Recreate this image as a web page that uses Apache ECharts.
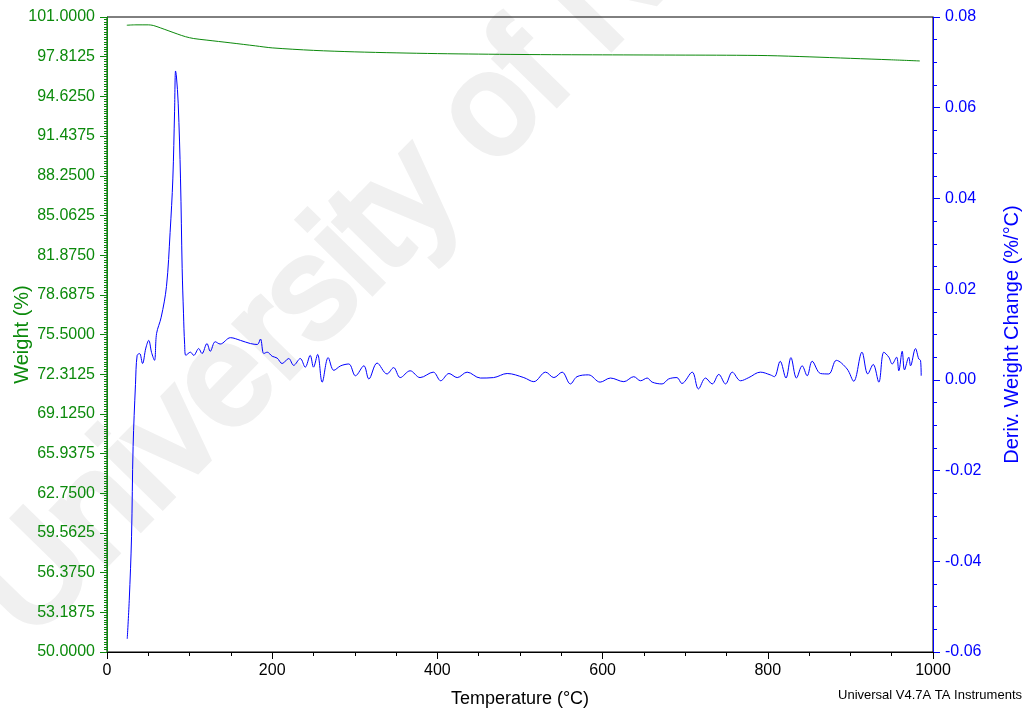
<!DOCTYPE html>
<html>
<head>
<meta charset="utf-8">
<title>TGA</title>
<script src="https://cdn.jsdelivr.net/npm/echarts@6/dist/echarts.min.js"></script>
<style>
  html, body { margin: 0; padding: 0; background: #fff; }
  #chart { width: 1028px; height: 715px; }
</style>
</head>
<body>
<div id="chart"></div>
<script>
// Weight (%) vs temperature (°C)
const weightTemp = [24, 35, 50, 56, 65, 75, 85, 95, 105, 120, 150, 180, 200, 250, 300, 350, 400, 450, 500, 550, 600, 650, 700, 750, 800, 850, 900, 950, 984];
const weightVals = [100.34, 100.37, 100.37, 100.32, 100.12, 99.88, 99.64, 99.42, 99.27, 99.15, 98.92, 98.68, 98.52, 98.32, 98.20, 98.12, 98.06, 98.02, 97.99, 97.97, 97.96, 97.95, 97.94, 97.93, 97.90, 97.80, 97.68, 97.56, 97.47];

// Derivative weight change (%/°C) vs temperature (°C)
const derivTemp = [24.5, 26.9, 29.7, 31.6, 34.5, 36.5, 39.5, 43, 47, 50.5, 54, 57.5, 60, 65.6, 72, 76.4, 79.7, 81.8, 83, 84, 86.2, 89, 91, 92.6, 94, 95.5,
  101, 105, 111, 115, 121, 125, 131, 137, 149.5, 161.6, 173.7, 182, 185.8, 189.8, 194, 200, 206, 212, 220, 226, 234, 240, 246, 250, 255, 260.5, 267.8, 274.6,
  283, 292.7, 300.8, 311, 317, 327, 339, 347, 355, 367, 379, 395, 404, 414, 424, 436, 452, 468, 484.5, 504.6, 516.7, 531, 541, 551, 561, 569, 583,
  597, 609.5, 625.7, 637.7, 646, 654, 660, 672, 680, 690, 696, 708.5, 716, 724.6, 732.7, 740.7, 748.8, 757, 767, 777, 791, 803, 808, 815, 822, 828,
  834.7, 841.6, 847.7, 853.7, 863.8, 873.8, 883, 896, 904, 914, 921, 927.6, 934.4, 940.5, 946.5, 950.6, 955.9, 958.6, 962.7, 965.5, 970.7, 972.8,
  978.8, 982.8, 984.9, 985.7];
const derivVals = [-0.0571, -0.0487, -0.0346, -0.0147, -0.0010, 0.0054, 0.0058, 0.0036, 0.0070, 0.0087, 0.0060, 0.0043, 0.0102, 0.0138, 0.0206, 0.0325, 0.0443, 0.0591, 0.0681, 0.0670, 0.0610, 0.0443, 0.0245, 0.0147, 0.0078, 0.0054,
  0.0061, 0.0054, 0.0069, 0.0058, 0.0080, 0.0063, 0.0084, 0.0079, 0.0093, 0.0087, 0.0080, 0.0078, 0.0090, 0.0058, 0.0061, 0.0052, 0.0048, 0.0036, 0.0047, 0.0032, 0.0047, 0.0028, 0.0054, 0.0028, 0.0056, -0.0005, 0.0049, 0.0021,
  0.0031, 0.0035, 0.0009, 0.0031, 0.0002, 0.0037, 0.0013, 0.0027, 0.0005, 0.0020, 0.0005, 0.0017, -0.0002, 0.0014, 0.0005, 0.0017, 0.0004, 0.0005, 0.0014, 0.0005, -0.0004, 0.0017, 0.0005, 0.0017, -0.0009, 0.0007, 0.0011,
  -0.0005, 0.0004, -0.0004, 0.0007, -0.0002, 0.0004, -0.0005, -0.0009, 0.0002, 0.0005, -0.0008, 0.0017, -0.0020, 0.0004, -0.0009, 0.0012, -0.0009, 0.0017, -0.0002, 0.0005, 0.0017, 0.0011, 0.0007, 0.0041, 0.0004, 0.0049,
  0.0004, 0.0031, 0.0009, 0.0041, 0.0014, 0.0013, 0.0043, 0.0024, -0.0003, 0.0061, 0.0013, 0.0034, -0.0005, 0.0061, 0.0050, 0.0035, 0.0050, 0.0020, 0.0063, 0.0022, 0.0050, 0.0031,
  0.0069, 0.0046, 0.0043, 0.0009];

const GREEN = '#0c8a0c';
const BLUE = '#0000ff';
const FONT = '"Liberation Sans", Arial, sans-serif';

const weightData = weightTemp.map((t, i) => [t, weightVals[i]]);
const derivData = derivTemp.map((t, i) => [t, derivVals[i]]);

const chart = echarts.init(document.getElementById('chart'), null, { renderer: 'canvas' });

chart.setOption({
  animation: false,
  backgroundColor: '#fff',
  textStyle: { fontFamily: FONT },
  grid: {
    left: 107, right: 95, top: 17, bottom: 63,
    show: true, borderColor: '#000', borderWidth: 1,
    containLabel: false, outerBoundsMode: 'none'
  },
  graphic: [
    {
      // faint diagonal background lettering
      type: 'text', z: -10, silent: true,
      x: 1, y: 615, rotation: 45.6 * Math.PI / 180,
      style: {
        text: 'University of N', font: '142px ' + FONT,
        fill: '#f0f0f0', stroke: '#f0f0f0', lineWidth: 7, lineJoin: 'round',
        textAlign: 'left', textVerticalAlign: 'middle'
      }
    },
    {
      type: 'text', right: 6, top: 689,
      style: { text: 'Universal V4.7A TA Instruments', font: '13px ' + FONT, fill: '#000' }
    }
  ],
  xAxis: {
    type: 'value', min: 0, max: 1000, interval: 200,
    name: 'Temperature (°C)', nameLocation: 'middle', nameGap: 38, nameMoveOverlap: false,
    nameTextStyle: { color: '#000', fontSize: 18, fontFamily: FONT },
    axisLine: { onZero: false, lineStyle: { color: '#000', width: 1 } },
    axisTick: { length: 7, lineStyle: { color: '#000' } },
    minorTick: { show: true, splitNumber: 4, length: 4, lineStyle: { color: '#000' } },
    axisLabel: { color: '#000', fontSize: 16, margin: 11, fontFamily: FONT, formatter: v => String(v) },
    splitLine: { show: false }
  },
  yAxis: [
    {
      type: 'value', position: 'left', min: 50, max: 101, interval: 3.1875,
      name: 'Weight (%)', nameLocation: 'middle', nameGap: 75, nameRotate: 90, nameMoveOverlap: false,
      nameTextStyle: { color: GREEN, fontSize: 20, fontFamily: FONT },
      axisLine: { show: true, onZero: false, lineStyle: { color: GREEN, width: 1 } },
      axisTick: { show: true, length: 7, lineStyle: { color: GREEN } },
      minorTick: { show: true, splitNumber: 16, length: 3, lineStyle: { color: GREEN } },
      axisLabel: { color: GREEN, fontSize: 16, margin: 12, fontFamily: FONT, formatter: v => v.toFixed(4) },
      splitLine: { show: false }
    },
    {
      type: 'value', position: 'right', min: -0.06, max: 0.08, interval: 0.02,
      name: 'Deriv. Weight Change (%/°C)', nameLocation: 'middle', nameGap: 69, nameRotate: 90, nameMoveOverlap: false,
      nameTextStyle: { color: BLUE, fontSize: 20, fontFamily: FONT },
      axisLine: { show: true, onZero: false, lineStyle: { color: BLUE, width: 1 } },
      axisTick: { show: true, length: 7, lineStyle: { color: BLUE } },
      minorTick: { show: true, splitNumber: 4, length: 4, lineStyle: { color: BLUE } },
      axisLabel: { color: BLUE, fontSize: 16, margin: 12, fontFamily: FONT, formatter: v => v.toFixed(2) },
      splitLine: { show: false }
    }
  ],
  series: [
    {
      name: 'Weight', type: 'line', yAxisIndex: 0, data: weightData,
      showSymbol: false, symbol: 'none', smooth: 0.3,
      lineStyle: { color: GREEN, width: 1 }, z: 3
    },
    {
      name: 'Deriv. Weight', type: 'line', yAxisIndex: 1, data: derivData,
      showSymbol: false, symbol: 'none', smooth: 0.35,
      lineStyle: { color: BLUE, width: 1 }, z: 4
    }
  ]
});
</script>
</body>
</html>
